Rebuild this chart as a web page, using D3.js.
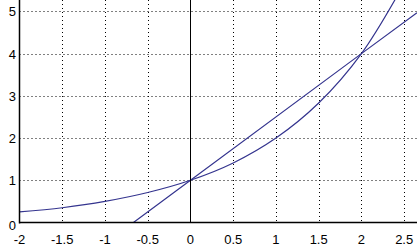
<!DOCTYPE html>
<html>
<head>
<meta charset="utf-8">
<script src="https://cdn.jsdelivr.net/npm/d3@7"></script>
<style>
  body { margin: 0; background: #fff; }
  svg { display: block; }
</style>
</head>
<body>
<script>
var svgWidth = 417;
var svgHeight = 251;

// values
var xTicks = [-2, -1.5, -1, -0.5, 0, 0.5, 1, 1.5, 2, 2.5];
var yTicks = [0, 1, 2, 3, 4, 5];
var curveX = [-2, -1.5, -1, -0.5, 0, 0.5, 1, 1.5, 2, 2.5];
var curveY = [0.25, 0.35, 0.5, 0.71, 1, 1.41, 2, 2.83, 4, 5.66];
var lineX = [-0.667, 0, 2, 2.65];
var lineY = [0, 1, 4, 4.97];

var xScale = d3.scaleLinear().domain([-2, 2.65]).range([19.5, 417]);
var yScale = d3.scaleLinear().domain([0, 5.27]).range([222.5, 0]);

var svg = d3.select("body").append("svg")
    .attr("width", svgWidth)
    .attr("height", svgHeight);

// dotted grid
svg.append("g").selectAll("line")
    .data(xTicks.filter(d => d !== -2 && d !== 0))
    .enter().append("line")
    .attr("x1", d => Math.round(xScale(d)) + 0.5)
    .attr("x2", d => Math.round(xScale(d)) + 0.5)
    .attr("y1", 0)
    .attr("y2", yScale(0))
    .attr("stroke", "#000")
    .attr("stroke-dasharray", "1,3");

svg.append("g").selectAll("line")
    .data(yTicks.filter(d => d !== 0))
    .enter().append("line")
    .attr("x1", xScale(-2))
    .attr("x2", svgWidth)
    .attr("y1", d => Math.round(yScale(d)) + 0.5)
    .attr("y2", d => Math.round(yScale(d)) + 0.5)
    .attr("stroke", "#000")
    .attr("stroke-dasharray", "1,3");

var clip = svg.append("clipPath").attr("id", "plot")
    .append("rect")
    .attr("x", xScale(-2)).attr("y", 0)
    .attr("width", svgWidth - xScale(-2)).attr("height", yScale(0));

var curveData = curveX.map((x, i) => [x, curveY[i]]);
var lineData = lineX.map((x, i) => [x, lineY[i]]);

var path = d3.line()
    .x(d => xScale(d[0]))
    .y(d => yScale(d[1]));

svg.append("path")
    .datum(curveData)
    .attr("clip-path", "url(#plot)")
    .attr("d", path.curve(d3.curveCatmullRom))
    .attr("fill", "none")
    .attr("stroke", "#35358f")
    .attr("stroke-width", 1.2);

svg.append("path")
    .datum(lineData)
    .attr("clip-path", "url(#plot)")
    .attr("d", d3.line().x(d => xScale(d[0])).y(d => yScale(d[1])))
    .attr("fill", "none")
    .attr("stroke", "#35358f")
    .attr("stroke-width", 1.2);

// axes lines
var x0 = Math.round(xScale(0)) + 0.5;
svg.append("line")
    .attr("x1", x0).attr("x2", x0)
    .attr("y1", 0).attr("y2", yScale(0))
    .attr("stroke", "#000");

svg.append("line")
    .attr("x1", xScale(-2)).attr("x2", xScale(-2))
    .attr("y1", 0).attr("y2", yScale(0) + 1)
    .attr("stroke", "#000").attr("stroke-width", 1.5);

svg.append("line")
    .attr("x1", xScale(-2)).attr("x2", svgWidth)
    .attr("y1", yScale(0)).attr("y2", yScale(0))
    .attr("stroke", "#000").attr("stroke-width", 1.5);

// tick labels
svg.append("g").selectAll("text")
    .data(xTicks)
    .enter().append("text")
    .attr("x", d => xScale(d))
    .attr("y", 244)
    .attr("text-anchor", "middle")
    .attr("font-family", "Liberation Sans, Arial, sans-serif")
    .attr("font-size", "13px")
    .text(d => d);

svg.append("g").selectAll("text")
    .data(yTicks)
    .enter().append("text")
    .attr("x", 16)
    .attr("y", d => yScale(d) + 5 + (d === 0 ? 2 : 0))
    .attr("text-anchor", "end")
    .attr("font-family", "Liberation Sans, Arial, sans-serif")
    .attr("font-size", "13px")
    .text(d => d);
</script>
</body>
</html>
